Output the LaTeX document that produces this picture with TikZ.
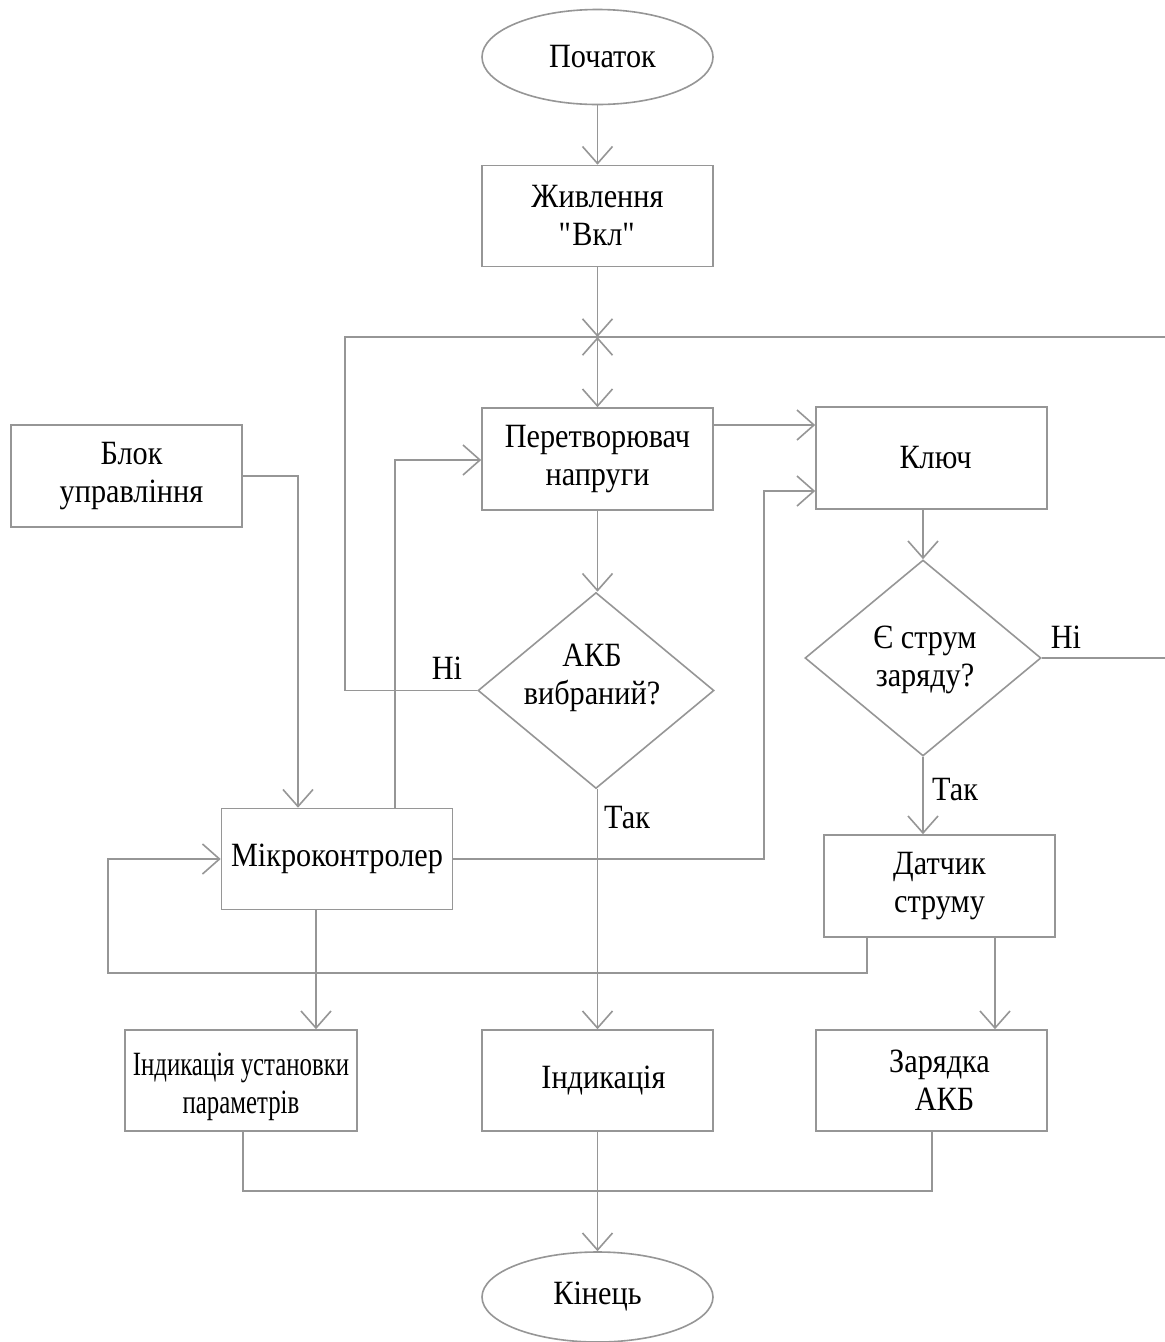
\documentclass[tikz,border=0pt]{standalone}
\usepackage{fontspec}
\setmainfont{Liberation Serif}[FakeStretch=0.89]
\newfontfamily\narrowfont{Liberation Serif}[FakeStretch=0.73]
\usetikzlibrary{arrows.meta,shapes.geometric,calc}
\definecolor{ln}{RGB}{150,150,150}
\begin{document}
\begin{tikzpicture}[x=1pt,y=-1pt,
  every node/.style={font=\fontsize{34}{38}\selectfont},
  box/.style={draw=ln,line width=1.6pt,rectangle,minimum width=231pt,minimum height=101pt,inner sep=0pt,align=center},
  oval/.style={draw=ln,line width=1.6pt,ellipse,minimum width=231pt,inner sep=0pt},
  dia/.style={draw=ln,line width=1.6pt,diamond,minimum width=236pt,minimum height=196pt,inner sep=0pt},
  lab/.style={inner sep=0pt,align=center},
  conn/.style={draw=ln,line width=1.6pt},
  arr/.style={conn,-{Straight Barb[length=17pt,width=30pt,line width=1.6pt]}},
  dbl/.style={conn,{Straight Barb[length=17pt,width=30pt,line width=1.6pt]}-{Straight Barb[length=17pt,width=30pt,line width=1.6pt]}}
]
\useasboundingbox[fill=white] (0,0) rectangle (1165,1342);

% nodes
\node[oval,minimum height=95pt] (start) at (597.5,57) {\hspace{10pt}Початок};
\node[box] (zhyv) at (597.5,216) {Живлення\\\textquotedbl Вкл\textquotedbl};
\node[box,minimum height=102pt] (pere) at (597.5,459) {Перетворювач\\напруги};
\node[box,minimum height=102pt] (klyuch) at (931.5,458) {\hspace{8pt}Ключ};
\node[box,minimum height=102pt] (blok) at (126.5,476) {\hspace{10pt}Блок\\\hspace{10pt}управління};
\node[dia] (akb) at (596,690.5) {};
\node[lab] (akbt) at (592,678) {АКБ\\вибраний?};
\node[dia] (strum) at (923,658) {};
\node[lab] (strumt) at (925,660) {Є струм\\заряду?};
\node[box] (mikro) at (337,859) {Мікроконтролер};
\node[box,minimum height=102pt] (datchyk) at (939.5,886) {Датчик\\струму};
\node[box,minimum width=232pt] (indust) at (241,1080.5) {\rule{0pt}{36pt}\narrowfont Індикація установки\\\narrowfont параметрів};
\node[box] (ind) at (597.5,1080.5) {\hspace{12pt}Індикація};
\node[box] (zar) at (931.5,1080.5) {\hspace{16pt}Зарядка\\\hspace{26pt}АКБ};
\node[oval,minimum height=90pt] (end) at (597.5,1297) {Кінець};

\node[lab] (ni1) at (447,668) {Ні};
\node[lab] (tak1) at (627,818) {Так};
\node[lab] (ni2) at (1066,637) {Ні};
\node[lab] (tak2) at (955,790) {Так};

\coordinate (j1) at (597.5,337);

% connectors
\draw[arr] (start.south) -- (zhyv.north);
\draw[arr] (zhyv.south) -- (j1);
\draw[dbl] (j1) -- (pere.north);
\draw[conn] (akb.west) -- (345,690.5) -- (345,337) -- (j1);
\draw[conn] (strum.east) -- (1180,658) -- (1180,337) -- (j1);
\draw[arr] (pere.east |- 0,425) -- (klyuch.west |- 0,425);
\draw[arr] (pere.south) -- (pere.south |- akb.north);
\draw[arr] (mikro.north -| 395,0) |- (pere.west |- 0,460);
\draw[arr] (mikro.east) -| (764,491) -- (klyuch.west |- 0,491);
\draw[arr] (blok.east) -| (mikro.north -| 298,0);
\draw[arr] (strum.north |- klyuch.south) -- (strum.north);
\draw[arr] (strum.south) -- (strum.south |- datchyk.north);
\draw[arr] (datchyk.south -| 867,0) |- (108,973) |- (mikro.west);
\draw[arr] (datchyk.south -| 995,0) -- (zar.north -| 995,0);
\draw[arr] (akb.south -| 597.5,0) -- (ind.north);
\draw[arr] (mikro.south -| 316,0) -- (indust.north -| 316,0);
\draw[conn] (indust.south -| 243,0) |- (932,1191) -- (zar.south -| 932,0);
\draw[arr] (ind.south) -- (end.north);
\end{tikzpicture}
\end{document}
